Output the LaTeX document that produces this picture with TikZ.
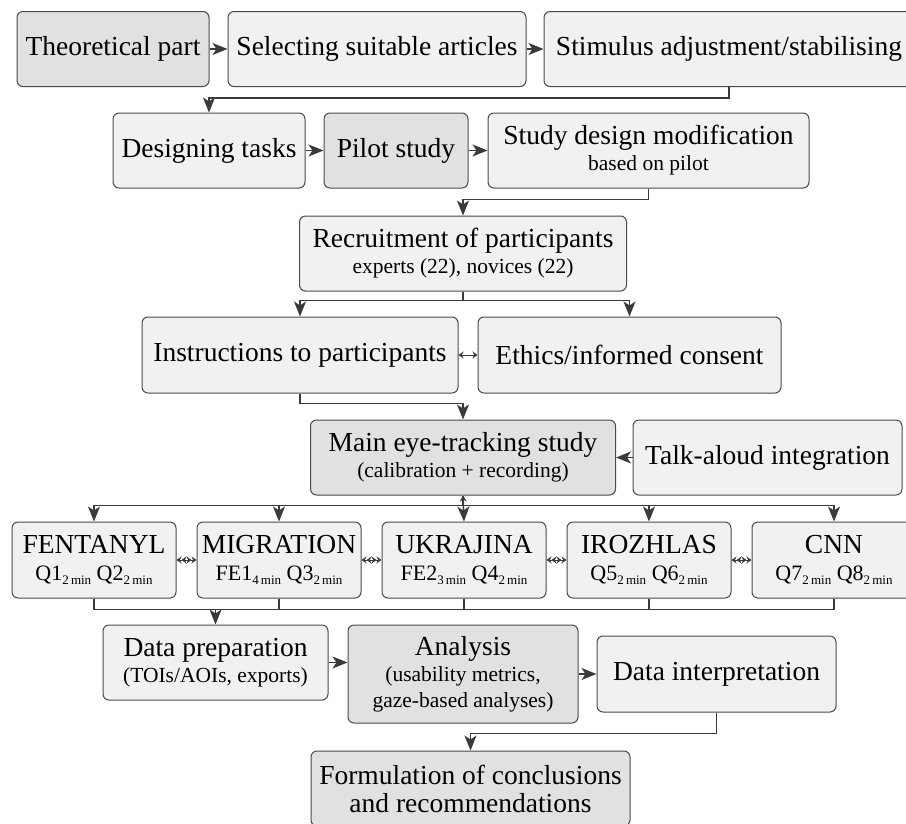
\documentclass[tikz,border=0pt]{standalone}
\usepackage{fontspec}
\setmainfont{Liberation Serif}
\usetikzlibrary{arrows.meta,calc}
\definecolor{lightbox}{HTML}{F1F1F1}
\definecolor{darkbox}{HTML}{E1E1E1}
\definecolor{edgecol}{HTML}{4A4A4A}
\definecolor{linecol}{HTML}{3A3A3A}
\newcommand\tmin[1]{\raisebox{-4.5pt}{\fontsize{13}{13}\selectfont #1\,min}}
\begin{document}
\begin{tikzpicture}[x=1pt,y=-1pt,
 box/.style={draw=edgecol, line width=1pt, rounded corners=6pt, fill=lightbox, inner sep=0pt, align=center, minimum height=75pt, font=\fontsize{27.5}{30}\selectfont},
 dbox/.style={box, fill=darkbox},
 conn/.style={draw=linecol, line width=1.5pt, -{Stealth[length=15pt,width=12pt,inset=4pt]}},
 plain/.style={draw=linecol, line width=1.5pt},
 dbl/.style={draw=linecol, line width=1pt, {Stealth[length=5pt,width=7pt]}-{Stealth[length=5pt,width=7pt]}}
]
\useasboundingbox (0,0) rectangle (906,823);
\newcommand\smalltxt{\fontsize{21.5}{24}\selectfont}
\newcommand\qtxt{\fontsize{22}{24}\selectfont}
% row 1
\node[dbox, minimum width=192pt] (th) at (113,49) {Theoretical part};
\node[box, minimum width=298pt] (sel) at (377,49) {Selecting suitable articles};
\node[box, minimum width=370pt] (sti) at (729,49) {Stimulus adjustment/stabilising};
% row 2
\node[box, minimum width=192pt] (des) at (209,150.5) {Designing tasks};
\node[dbox, minimum width=144pt] (pil) at (396,150.5) {Pilot study};
\node[box, minimum width=321pt] (sdm) at (648.5,150.5) {Study design modification\\[-4pt]{\smalltxt based on pilot}};
% row 3
\node[box, minimum width=327pt] (rec) at (463,253.5) {Recruitment of participants\\[-4pt]{\smalltxt experts (22), novices (22)}};
% row 4
\node[box, minimum width=316pt, minimum height=76pt] (ins) at (300,355) {Instructions to participants};
\node[box, minimum width=303pt, minimum height=76pt] (eth) at (629.5,355) {Ethics/informed consent};
% row 5
\node[dbox, minimum width=305pt] (main) at (463,457.5) {Main eye-tracking study\\[-4pt]{\smalltxt (calibration + recording)}};
\node[box, minimum width=269pt] (talk) at (767.5,457.5) {Talk-aloud integration};
% row 6
\node[box, minimum width=164pt, minimum height=76pt] (fen) at (94,560) {FENTANYL\\[-3pt]{\qtxt Q1\tmin{2} Q2\tmin{2}}};
\node[box, minimum width=164pt, minimum height=76pt] (mig) at (279,560) {MIGRATION\\[-3pt]{\qtxt FE1\tmin{4} Q3\tmin{2}}};
\node[box, minimum width=164pt, minimum height=76pt] (uk) at (464,560) {UKRAJINA\\[-3pt]{\qtxt FE2\tmin{3} Q4\tmin{2}}};
\node[box, minimum width=164pt, minimum height=76pt] (iro) at (649,560) {IROZHLAS\\[-3pt]{\qtxt Q5\tmin{2} Q6\tmin{2}}};
\node[box, minimum width=164pt, minimum height=76pt] (cnn) at (834,560) {CNN\\[-3pt]{\qtxt Q7\tmin{2} Q8\tmin{2}}};
% row 7
\node[box, minimum width=225pt] (dp) at (215.5,662.5) {Data preparation\\[-4pt]{\smalltxt (TOIs/AOIs, exports)}};
\node[dbox, minimum width=230pt, minimum height=98pt] (an) at (463,674) {Analysis\\[-4pt]{\smalltxt (usability metrics,}\\[-4pt]{\smalltxt gaze-based analyses)}};
\node[box, minimum width=239pt, minimum height=76pt] (di) at (716.5,674) {Data interpretation};
% row 8
\node[dbox, minimum width=319pt] (fo) at (470.5,788.5) {Formulation of conclusions\\[-2pt]and recommendations};
% connectors
\draw[conn] (th.east) -- (sel.west);
\draw[conn] (sel.east) -- (sti.west);
\draw[conn] (sti.south) -- ++(0,11) -| (des.north);
\draw[conn] (des.east) -- (pil.west);
\draw[conn] (pil.east) -- (sdm.west);
\draw[conn] (sdm.south) -- ++(0,11) -| (rec.north);
\draw[conn] (rec.south) -- ++(0,9) -| (ins.north);
\draw[conn] (rec.south) -- ++(0,9) -| (eth.north);
\draw[dbl] (ins.east) -- (eth.west);
\draw[conn] (ins.south) -- ++(0,10) -| (main.north);
\draw[conn] (talk.west) -- (main.east);
\draw[conn] (main.south) -- ++(0,10) coordinate (bus) -| (fen.north);
\draw[conn] (bus) -| (mig.north);
\draw[conn] (bus) -| (iro.north);
\draw[conn] (bus) -| (cnn.north);
\draw[draw=linecol, line width=1.5pt, {Stealth[length=6pt,width=7pt]}-{Stealth[length=15pt,width=12pt,inset=4pt]}] (main.south) -- (uk.north);
\foreach \a/\b in {fen/mig,mig/uk,uk/iro,iro/cnn}{
  \draw[dbl] (\a.east) -- (\b.west);
  \draw[dbl] ($(\a.east)!0.5!(\b.west)$ |- bus) ++(-5,0) -- ++(10,0);
}
\draw[plain] (fen.south) -- ++(0,11) coordinate (bot) -| (cnn.south);
\draw[plain] (mig.south) -- (mig.south |- bot);
\draw[plain] (uk.south) -- (uk.south |- bot);
\draw[plain] (iro.south) -- (iro.south |- bot);
\draw[conn] (dp.north |- bot) -- (dp.north);
\draw[conn] (dp.east) -- (dp.east -| an.west);
\draw[conn] (an.east) -- (di.west);
\draw[conn] (di.south) -- ++(0,21) -| (fo.north);
\end{tikzpicture}
\end{document}
